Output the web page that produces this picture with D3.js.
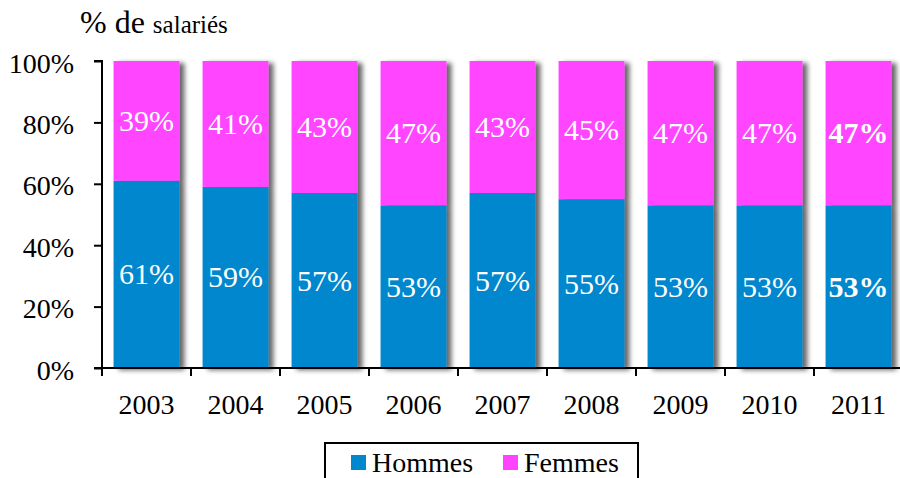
<!DOCTYPE html>
<html>
<head>
<meta charset="utf-8">
<script src="https://cdn.jsdelivr.net/npm/d3@7"></script>
<style>
  body { margin: 0; background: #fff; }
</style>
</head>
<body>
<div id="container"></div>
<script>
//Data
var years = ["2003", "2004", "2005", "2006", "2007", "2008", "2009", "2010", "2011"];
var hommes = [61, 59, 57, 53, 57, 55, 53, 53, 53];
var femmes = [39, 41, 43, 47, 43, 45, 47, 47, 47];
var yTicks = [0, 20, 40, 60, 80, 100];

var width = 900,
    height = 478;

var colHommes = "#0087cd",
    colFemmes = "#ff44ff";

var svg = d3.select("#container").append("svg")
    .attr("width", width)
    .attr("height", height);

//Shadow to the right of each bar
var defs = svg.append("defs");
var f = defs.append("filter").attr("id", "shadow")
    .attr("x", "-10%").attr("y", "-10%").attr("width", "130%").attr("height", "120%");
f.append("feGaussianBlur").attr("in", "SourceAlpha").attr("stdDeviation", 2.5).attr("result", "blur");
f.append("feOffset").attr("in", "blur").attr("dx", 5).attr("dy", 2).attr("result", "off");
f.append("feComponentTransfer").attr("in", "off").attr("result", "soft")
    .append("feFuncA").attr("type", "linear").attr("slope", 0.6);
var m = f.append("feMerge");
m.append("feMergeNode").attr("in", "soft");
m.append("feMergeNode").attr("in", "SourceGraphic");

//Scales
var x = d3.scaleBand().domain(years).range([102, 903]).paddingInner(0.26).paddingOuter(0.13);
var y = d3.scaleLinear().domain([0, 100]).range([368, 61]);

//Bars
var rows = years.map(function (yr, i) {
    return { year: yr, h: hommes[i], f: femmes[i], bold: i === years.length - 1 };
});

var g = svg.append("g");
var bar = g.selectAll(".bar").data(rows).enter().append("g")
    .attr("class", "bar")
    .attr("filter", "url(#shadow)");

bar.append("rect")
    .attr("x", function (d) { return x(d.year); })
    .attr("width", x.bandwidth())
    .attr("y", function (d) { return y(d.h); })
    .attr("height", function (d) { return y(0) - y(d.h); })
    .attr("fill", colHommes);

bar.append("rect")
    .attr("x", function (d) { return x(d.year); })
    .attr("width", x.bandwidth())
    .attr("y", function (d) { return y(d.h + d.f); })
    .attr("height", function (d) { return y(d.h) - y(d.h + d.f); })
    .attr("fill", colFemmes);

//Labels
var lab = svg.append("g");
rows.forEach(function (d) {
    var cx = x(d.year) + x.bandwidth() / 2;
    lab.append("text")
        .attr("x", cx).attr("y", (y(0) + y(d.h)) / 2 + 10)
        .attr("text-anchor", "middle")
        .attr("fill", "#fff")
        .attr("font-size", 30)
        .attr("font-weight", d.bold ? "bold" : "normal")
        .text(d.h + "%");
    lab.append("text")
        .attr("x", cx).attr("y", (y(d.h) + y(d.h + d.f)) / 2 + 10)
        .attr("text-anchor", "middle")
        .attr("fill", "#fff")
        .attr("font-size", 30)
        .attr("font-weight", d.bold ? "bold" : "normal")
        .text(d.f + "%");
});

//Y axis
var yAxis = svg.append("g")
    .attr("transform", "translate(102,0)")
    .call(d3.axisLeft(y).tickValues(yTicks).tickSize(8).tickPadding(20)
        .tickFormat(function (d) { return d + "%"; }));
yAxis.selectAll("text").attr("font-size", 28).attr("fill", "#000").attr("dy", 11);
yAxis.selectAll("line, path").attr("stroke", "#000").attr("stroke-width", 2);
yAxis.select(".domain").attr("d", "M-8," + y(100) + "H0V" + y(0) + "H-8");

//X axis
var xAxis = svg.append("g").attr("transform", "translate(0," + y(0) + ")");
xAxis.append("line").attr("x1", 94).attr("x2", 903).attr("stroke", "#000").attr("stroke-width", 2);
var bounds = years.map(function (yr) { return x(yr) - x.step() * x.paddingInner() / 2; });
bounds.push(903);
xAxis.selectAll(".tk").data(bounds).enter().append("line")
    .attr("x1", function (d) { return d; }).attr("x2", function (d) { return d; })
    .attr("y1", 0).attr("y2", 8)
    .attr("stroke", "#000").attr("stroke-width", 2);
xAxis.selectAll(".yl").data(years).enter().append("text")
    .attr("x", function (d) { return x(d) + x.bandwidth() / 2; })
    .attr("y", 46)
    .attr("text-anchor", "middle")
    .attr("font-size", 28)
    .text(function (d) { return d; });

//Title
var t = svg.append("text").attr("x", 80).attr("y", 33);
t.append("tspan").attr("font-size", 32).text("% de ");
t.append("tspan").attr("font-size", 25).text("salariés");

//Legend
var leg = svg.append("g");
leg.append("rect").attr("x", 325).attr("y", 443).attr("width", 313).attr("height", 50)
    .attr("fill", "#fff").attr("stroke", "#000").attr("stroke-width", 2);
var items = [{ name: "Hommes", col: colHommes, x: 351 }, { name: "Femmes", col: colFemmes, x: 503 }];
items.forEach(function (it) {
    leg.append("rect").attr("x", it.x).attr("y", 455).attr("width", 15).attr("height", 15).attr("fill", it.col);
    leg.append("text").attr("x", it.x + 21).attr("y", 472).attr("font-size", 28).text(it.name);
});

//Serif everywhere
svg.selectAll("text").style("font-family", "Liberation Serif");
</script>
</body>
</html>
